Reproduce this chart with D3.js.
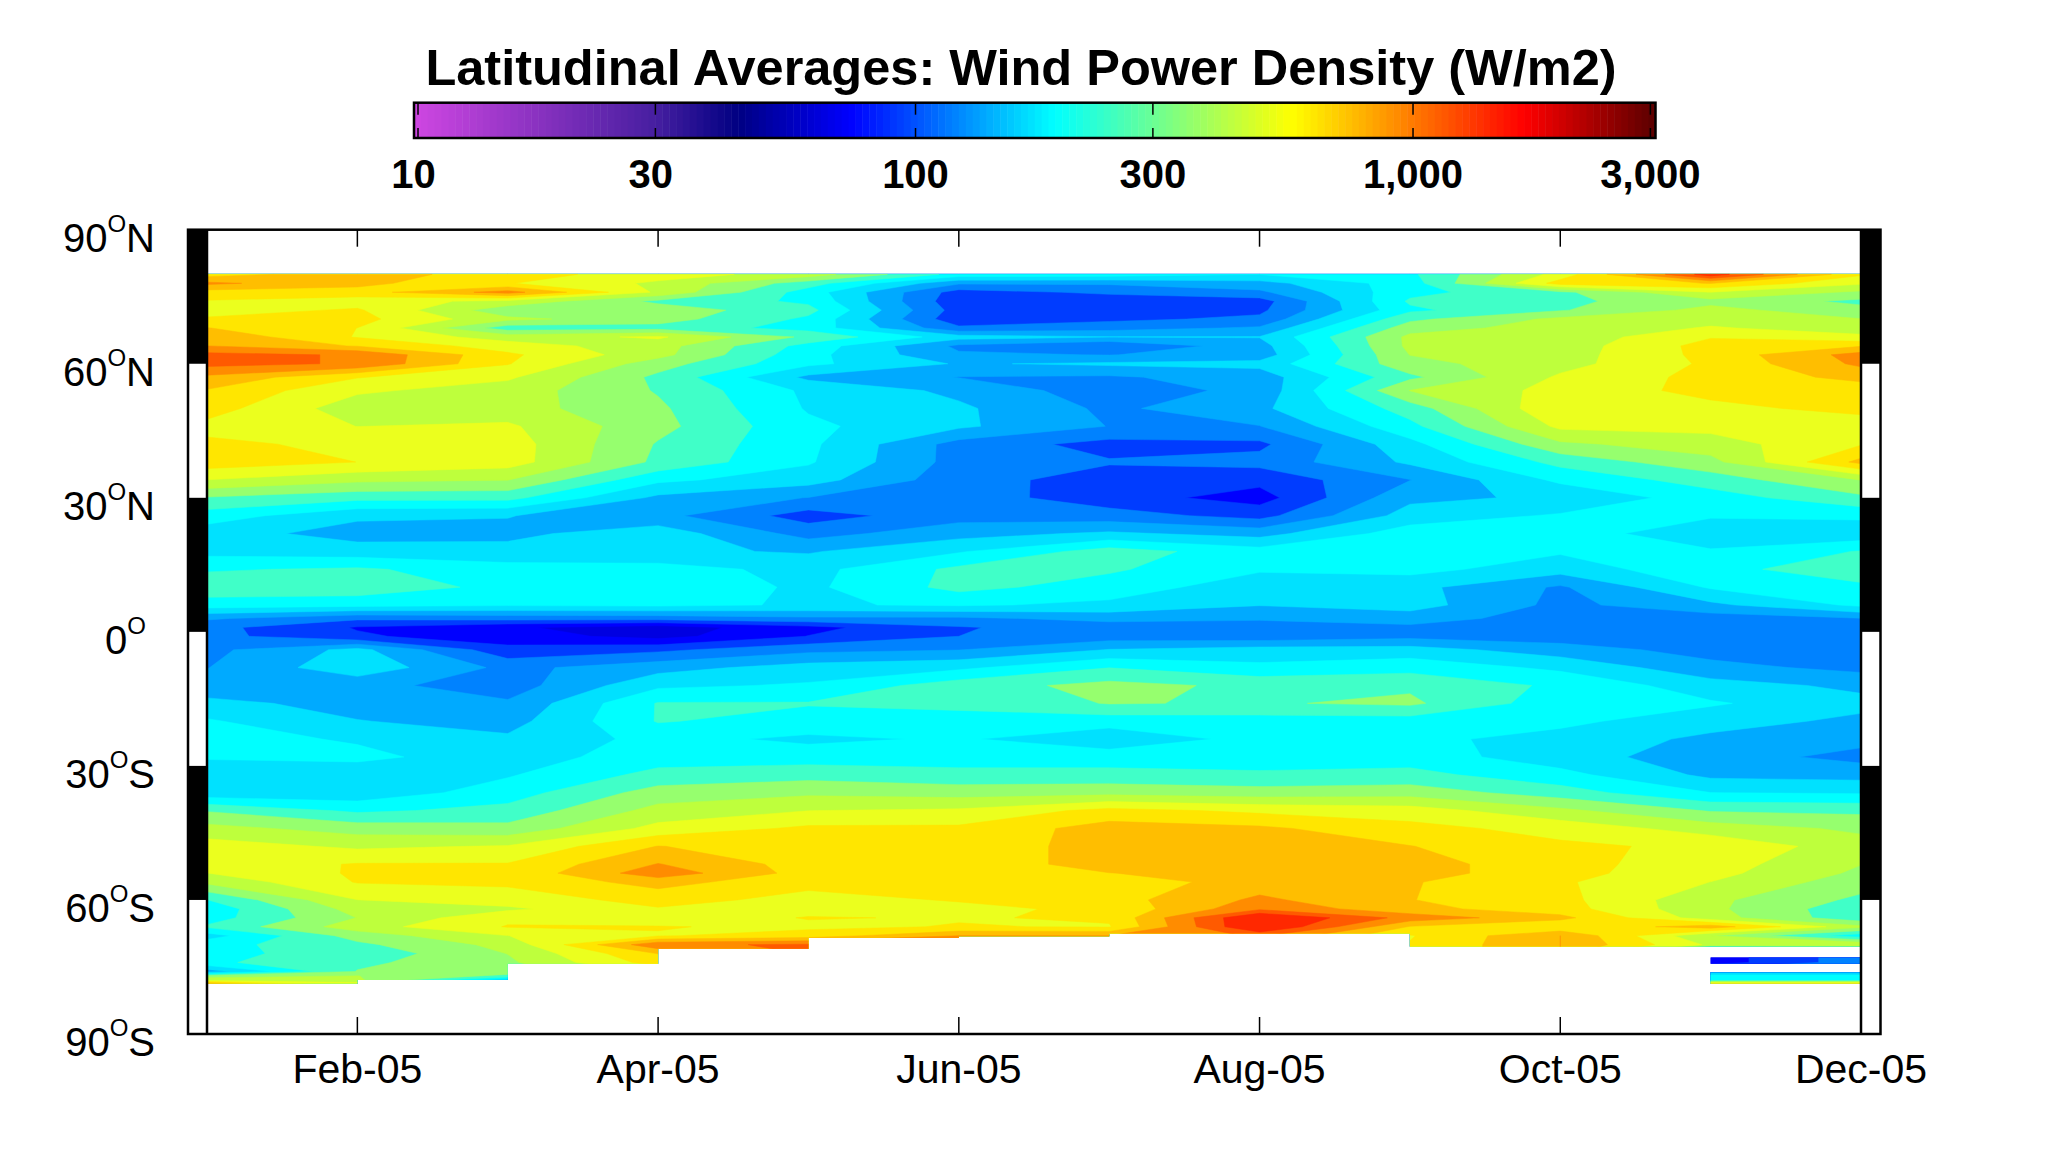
<!DOCTYPE html>
<html>
<head>
<meta charset="utf-8">
<script src="https://cdnjs.cloudflare.com/ajax/libs/d3/7.8.5/d3.min.js"></script>
<style>
html, body { margin: 0; padding: 0; background: #fff; }
svg { display: block; }
text { font-family: "Liberation Sans", Arial, sans-serif; fill: #000; }
</style>
</head>
<body>
<div id="viz"></div>
<script>
// latitude of each row (deg), north to south
var lats = [80,78,76,74,72,70,68,66,64,62,60,57,54,50,46,42,38,34,30,26,22,18,14,10,6,3,1,-1,
  -4,-8,-12,-16,-20,-24,-28,-32,-36,-40,-44,-48,-52,-54,-56,-60,-62,-64,-66,-68,-70,-72,-74,-76,-77,-78,-79];

// wind power density (W/m2) per month
var wpdJan = [720,1050,720,620,570,650,800,950,1000,1350,1350,950,780,700,590,660,720,500,310,225,175,185,245,290,225,130,108,108,
  118,125,135,170,205,215,205,170,170,310,430,560,560,500,420,250,215,225,260,180,230,240,240,140,340,500,1200];
var wpdFeb = [900,850,720,560,650,680,630,620,780,1230,1230,640,520,440,500,600,630,420,270,165,145,175,260,290,215,105,78,82,
  170,185,135,145,160,195,210,175,170,240,360,480,640,650,640,500,440,400,450,350,300,270,300,320,400,420,600];
var wpdMar = [700,640,1100,470,340,420,280,450,560,660,640,520,450,440,520,560,560,400,270,160,150,170,220,235,205,110,65,70,
  85,118,112,130,145,165,178,195,225,270,340,510,640,660,660,560,480,600,640,500,430,400,380,350,300,150,300];
var wpdApr = [560,480,480,300,360,350,290,520,440,430,350,300,310,330,340,310,300,210,150,135,180,165,220,240,210,110,56,58,
  95,145,190,255,255,215,225,270,350,430,540,800,1010,1150,870,680,620,540,640,620,1200,800,700,500,500,500,500];
var wpdMay = [450,280,225,240,270,240,230,300,230,215,210,150,190,195,210,210,205,175,125,90,115,155,185,190,195,120,74,80,
  118,175,205,255,230,190,225,290,380,500,660,700,720,720,670,590,580,640,600,700,1300,1300,1300,1300,1300,1300,1300];
var wpdJun = [230,130,90,85,90,85,105,175,120,130,155,125,150,165,165,115,115,110,112,115,145,195,265,270,205,120,98,100,
  125,190,285,270,225,205,225,270,360,520,660,660,660,660,650,640,600,620,640,1000,1300,1300,1300,1300,1300,1300,1300];
var wpdJul = [225,130,105,85,90,95,115,160,100,125,165,122,110,120,125,92,102,90,88,110,165,280,260,225,190,135,112,112,
  160,250,340,320,220,170,225,270,370,680,880,900,900,790,700,720,660,650,620,1000,1000,1000,1000,1000,1000,1000,1000];
var wpdAug = [200,145,120,90,95,105,130,160,145,140,170,140,135,150,125,95,108,85,72,92,145,220,205,175,160,130,112,108,
  175,210,300,310,225,215,225,260,350,600,830,850,880,880,880,1050,1200,2100,2100,1300,1300,1300,1300,1300,1300,1300,1300];
var wpdSep = [240,225,235,260,240,300,360,420,420,400,370,300,400,280,235,185,165,125,150,175,225,225,215,170,175,140,120,118,
  175,230,305,330,225,210,225,270,360,560,680,800,880,880,810,800,850,1150,780,620,640,640,640,640,640,640,640];
var wpdOct = [550,700,300,300,310,420,440,430,440,450,460,520,540,620,530,380,270,210,165,205,225,205,175,122,118,112,112,112,
  140,190,240,220,210,185,175,215,280,420,580,660,680,680,650,680,700,850,640,1000,1000,1000,1000,1000,1000,1000,1000];
var wpdNov = [1800,800,500,370,430,470,510,620,690,680,660,680,680,590,540,450,370,280,225,205,170,205,235,205,150,112,108,105,
  115,135,175,205,175,150,140,150,200,310,450,600,560,540,500,420,420,440,900,400,480,70,70,130,225,240,1100];
var wpdDec = [650,520,380,300,340,400,460,520,780,1100,1050,850,700,680,550,620,850,400,300,210,170,255,285,240,210,125,112,112,
  110,118,150,170,150,135,117,145,195,300,380,440,400,380,350,300,270,270,420,220,500,115,115,130,220,240,1100];
var months = [wpdJan,wpdFeb,wpdMar,wpdApr,wpdMay,wpdJun,wpdJul,wpdAug,wpdSep,wpdOct,wpdNov,wpdDec];

// data coverage: northern limit, southern limit per month interval, and the two last strips in Nov-Dec
var northEdge = 80.3;
var southEdge = [-78.7,-77.9,-74.3,-70.9,-68.5,-68.1,-67.5,-67.5,-70.4,-70.4,-70.4];
var lastStrips = [[-72.9,-74.3],[-76.2,-78.7]];

var xTicks = [1,3,5,7,9,11];
var xLabels = ["Feb-05","Apr-05","Jun-05","Aug-05","Oct-05","Dec-05"];
var latTicks = [90,60,30,0,-30,-60,-90];
var latNames = [["90","N"],["60","N"],["30","N"],["0",""],["30","S"],["60","S"],["90","S"]];
var barTicks = [10,30,100,300,1000,3000];

// contour levels, a tenth of a decade apart, and the colour of each band
var levels = d3.range(17,33).map(function(k){ return Math.pow(10,k/10); });
var bandColors = ["#0000e1","#0000ff","#003cff","#0082ff","#00aaff","#00e1ff","#00ffff","#40ffc8",
  "#96ff6e","#beff3c","#ebff1e","#ffe600","#ffbe00","#ff8c00","#ff5a00","#ff2800"];

var w = 2069, h = 1149;
var svg = d3.select("#viz").append("svg").attr("width",w).attr("height",h);

var x = d3.scaleLinear().domain([0,11]).range([207,1861]).clamp(true);
var y = d3.scaleLinear().domain([90,-90]).range([229.7,1034]);
// contour row coordinate -> latitude
var rowLat = d3.scaleLinear().domain(lats.map(function(d,i){ return i+0.5; })).range(lats).clamp(true);

var values = [];
lats.forEach(function(lat,r){
  months.forEach(function(m){ values.push(Math.log10(m[r])); });
});

var contours = d3.contours().size([months.length,lats.length])
  .thresholds(levels.map(function(d){ return Math.log10(d); }))(values);

var path = d3.geoPath(d3.geoTransform({
  point: function(px,py){ this.stream.point(x(px-0.5), y(rowLat(py))); }
}));

// clip to where there is data
var clip = svg.append("clipPath").attr("id","coverage");
southEdge.forEach(function(s,i){
  clip.append("rect").attr("x",x(i)).attr("width",x(i+1)-x(i))
    .attr("y",y(northEdge)).attr("height",y(s)-y(northEdge));
});
lastStrips.forEach(function(s){
  clip.append("rect").attr("x",x(10)).attr("width",x(11)-x(10))
    .attr("y",y(s[0])).attr("height",y(s[1])-y(s[0]));
});

svg.append("g").attr("clip-path","url(#coverage)")
  .selectAll("path").data(contours).enter().append("path")
  .attr("d",path)
  .attr("fill",function(d,i){ return bandColors[i]; })
  .attr("stroke",function(d,i){ return bandColors[i]; })
  .attr("stroke-width",0.5);

// side strips
var frameL = 188, frameR = 1880.5;
[[90,60],[30,0],[-30,-60]].forEach(function(b){
  svg.append("rect").attr("x",frameL).attr("width",x(0)-frameL)
    .attr("y",y(b[0])).attr("height",y(b[1])-y(b[0])).attr("fill","#000");
  svg.append("rect").attr("x",x(11)).attr("width",frameR-x(11))
    .attr("y",y(b[0])).attr("height",y(b[1])-y(b[0])).attr("fill","#000");
});
svg.append("rect").attr("x",frameL).attr("y",y(90)).attr("width",frameR-frameL).attr("height",y(-90)-y(90))
  .attr("fill","none").attr("stroke","#000").attr("stroke-width",2.5);
[0,11].forEach(function(m){
  svg.append("line").attr("x1",x(m)).attr("x2",x(m)).attr("y1",y(90)).attr("y2",y(-90))
    .attr("stroke","#000").attr("stroke-width",2.5);
});

// month ticks, both edges
var axisB = svg.append("g").selectAll("g").data(xTicks).enter().append("g");
axisB.append("line").attr("x1",x).attr("x2",x).attr("y1",y(-90)).attr("y2",y(-90)-17).attr("stroke","#000").attr("stroke-width",1.5);
axisB.append("line").attr("x1",x).attr("x2",x).attr("y1",y(90)).attr("y2",y(90)+17).attr("stroke","#000").attr("stroke-width",1.5);
axisB.append("text").attr("x",x).attr("y",1083).attr("text-anchor","middle").attr("font-size",41)
  .text(function(d,i){ return xLabels[i]; });

// latitude labels, with the raised O for degrees
latTicks.forEach(function(lat,i){
  var name = latNames[i];
  var t = svg.append("text").attr("x",name[1] ? 155 : 146).attr("y",y(lat)+22)
    .attr("text-anchor","end").attr("font-size",40);
  t.append("tspan").text(name[0]);
  t.append("tspan").attr("font-size",24).attr("dy",-20).text("O");
  if (name[1]) t.append("tspan").attr("dy",20).text(name[1]);
});

// colour bar
var barX = d3.scaleLog().domain([10,3000]).range([418,1650.4]);
var barColor = d3.scaleLog()
  .domain([10,30,44,74,190,571,1670,3070])
  .range(["#cd46e1","#461ea0","#000082","#0000ff","#00ffff","#ffff00","#ff0000","#5a0000"]);
var barL = 414, barR = 1655.5, barT = 102.7, barB = 138;
var nSteps = 180, stepW = (barR-barL)/nSteps;
svg.append("g").selectAll("rect").data(d3.range(nSteps)).enter().append("rect")
  .attr("x",function(d){ return barL+d*stepW; })
  .attr("width",stepW+0.5)
  .attr("y",barT).attr("height",barB-barT)
  .attr("fill",function(d){ return barColor(barX.invert(barL+(d+0.5)*stepW)); });
svg.append("rect").attr("x",barL).attr("y",barT).attr("width",barR-barL).attr("height",barB-barT)
  .attr("fill","none").attr("stroke","#000").attr("stroke-width",2.5);
var barTick = svg.append("g").selectAll("g").data(barTicks).enter().append("g");
barTick.append("line").attr("x1",barX).attr("x2",barX).attr("y1",barT).attr("y2",barT+12).attr("stroke","#000").attr("stroke-width",1.5);
barTick.append("line").attr("x1",barX).attr("x2",barX).attr("y1",barB-10).attr("y2",barB).attr("stroke","#000").attr("stroke-width",1.5);
barTick.append("text").attr("x",function(d){ return barX(d) + (d < 100 ? -4.5 : 0); }).attr("y",188).attr("text-anchor","middle")
  .attr("font-size",40).attr("font-weight","bold").text(d3.format(","));

svg.append("text").attr("x",1021).attr("y",85).attr("text-anchor","middle")
  .attr("font-size",50.5).attr("font-weight","bold")
  .text("Latitudinal Averages: Wind Power Density (W/m2)");
</script>
</body>
</html>
